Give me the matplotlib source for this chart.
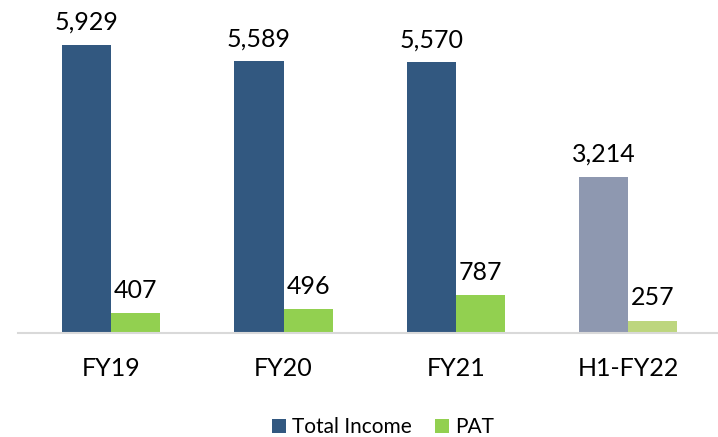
import matplotlib.pyplot as plt
import numpy as np

plt.rcParams['font.family'] = ['Lato', 'DejaVu Sans']

periods = ['FY19', 'FY20', 'FY21', 'H1-FY22']
total_income = [5929, 5589, 5570, 3214]
pat = [407, 496, 787, 257]

income_colors = ['#325880', '#325880', '#325880', '#8E98B0']
pat_colors = ['#92D050', '#92D050', '#92D050', '#BDD67E']

fig = plt.figure(figsize=(7.18, 4.37), dpi=100)
ax = fig.add_axes([18 / 718, 104 / 437, 700 / 718, 333 / 437])

x = np.arange(len(periods))
w = 0.285
b1 = ax.bar(x - w / 2, total_income, w, color=income_colors)
b2 = ax.bar(x + w / 2, pat, w, color=pat_colors)

for bars, vals in [(b1, total_income), (b2, pat)]:
    for bar, v in zip(bars, vals):
        ax.annotate(f'{v:,}', (bar.get_x() + bar.get_width() / 2, v),
                    xytext=(0, 8), textcoords='offset points',
                    ha='center', va='bottom', fontsize=18)

ax.set_xlim(-0.54, 3.52)
ax.set_ylim(0, 6855)
ax.set_xticks(x)
ax.set_xticklabels(periods, fontsize=18)
ax.tick_params(axis='x', length=0, pad=17)
ax.set_yticks([])
for s in ['top', 'right', 'left']:
    ax.spines[s].set_visible(False)
ax.spines['bottom'].set_color('#D9D9D9')
ax.spines['bottom'].set_linewidth(1.5)

fig.legend(handles=[b1[0], b2[0]], labels=['Total Income', 'PAT'],
           loc='center', bbox_to_anchor=(383 / 718, 1 - 427 / 437),
           ncol=2, frameon=False, fontsize=15, handlelength=0.68, handleheight=0.68,
           handletextpad=0.3, columnspacing=1.1, borderpad=0.1)

fig.savefig('out.png', dpi=100)
